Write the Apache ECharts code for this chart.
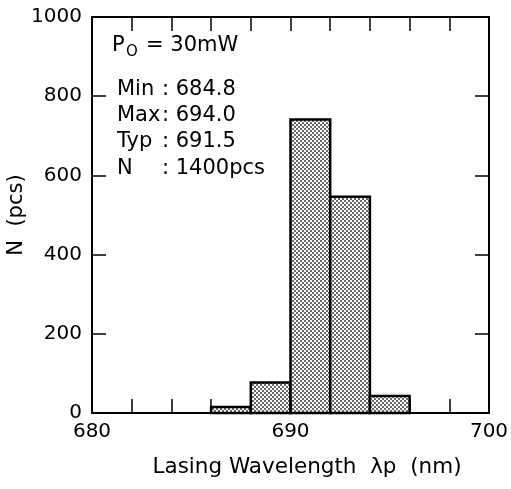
<!DOCTYPE html>
<html>
<head>
<meta charset="utf-8">
<script src="https://cdn.jsdelivr.net/npm/echarts@6/dist/echarts.min.js"></script>
<style>
html,body{margin:0;padding:0;background:#fff;}
#chart{width:511px;height:489px;}
</style>
</head>
<body>
<div id="chart"></div>
<script>
// ---- data ----
const binStart = [686, 688, 690, 692, 694];
const binEnd   = [688, 690, 692, 694, 696];
const counts   = [15, 77, 741, 546, 43];
const xTickLabels = [680, 690, 700];
const yTickLabels = [0, 200, 400, 600, 800, 1000];
const powerLabel = ['P', 'O', '= 30mW'];
const statLabels = ['Min', 'Max', 'Typ', 'N'];
const statValues = [': 684.8', ': 694.0', ': 691.5', ': 1400pcs'];
const xTitle = 'Lasing Wavelength  \u03bbp  (nm)';
const yTitle = 'N  (pcs)';

// ---- pattern fill ----
const pc = document.createElement('canvas');
pc.width = 4; pc.height = 4;
const pctx = pc.getContext('2d');
pctx.fillStyle = '#ffffff'; pctx.fillRect(0, 0, 4, 4);
pctx.fillStyle = '#6a6a6a';
pctx.fillRect(0, 0, 2, 2); pctx.fillRect(2, 2, 2, 2);

const FONT = '"DejaVu Sans", sans-serif';
const binData = binStart.map((s, i) => [s, binEnd[i], counts[i]]);

const chart = echarts.init(document.getElementById('chart'), null, {renderer: 'canvas'});

function tickStyle() { return {show: true, inside: true, length: 14, lineStyle: {color: '#000', width: 1.5}}; }
function lineStyle() { return {show: true, onZero: false, lineStyle: {color: '#000', width: 2}}; }

const graphics = [];
graphics.push({type: 'text', left: 112, top: 35, z: 10, style: {text: powerLabel[0], font: '21px ' + FONT, fill: '#000'}});
graphics.push({type: 'text', left: 126, top: 45, z: 10, style: {text: powerLabel[1], font: '15px ' + FONT, fill: '#000'}});
graphics.push({type: 'text', left: 146, top: 35, z: 10, style: {text: powerLabel[2], font: '21px ' + FONT, fill: '#000'}});
const lineTops = [79, 105, 131, 158];
statLabels.forEach((t, i) => {
  graphics.push({type: 'text', left: 117, top: lineTops[i], z: 10, style: {text: t, font: '21px ' + FONT, fill: '#000'}});
  graphics.push({type: 'text', left: 162, top: lineTops[i], z: 10, style: {text: statValues[i], font: '21px ' + FONT, fill: '#000'}});
});

chart.setOption({
  animation: false,
  backgroundColor: '#fff',
  grid: {left: 92, right: 22, top: 17, bottom: 76, containLabel: false, outerBoundsMode: 'none'},
  xAxis: [{
    type: 'value', min: 680, max: 700, interval: 2, position: 'bottom', z: 5,
    axisLine: lineStyle(), axisTick: tickStyle(), splitLine: {show: false},
    axisLabel: {
      margin: 9, color: '#000', fontFamily: FONT, fontSize: 20,
      formatter: v => (xTickLabels.indexOf(v) >= 0 ? String(v) : '')
    },
    name: xTitle, nameLocation: 'middle', nameGap: 43, nameMoveOverlap: false,
    nameTextStyle: {color: '#000', fontFamily: FONT, fontSize: 21.5, padding: [0, 0, 0, 33]}
  }, {
    type: 'value', min: 680, max: 700, interval: 2, position: 'top', z: 5,
    axisLine: lineStyle(), axisTick: tickStyle(), splitLine: {show: false}, axisLabel: {show: false}
  }],
  yAxis: [{
    type: 'value', min: 0, max: 1000, interval: 200, position: 'left', z: 5,
    axisLine: lineStyle(), axisTick: tickStyle(), splitLine: {show: false},
    axisLabel: {
      margin: 10, color: '#000', fontFamily: FONT, fontSize: 20,
      formatter: v => (yTickLabels.indexOf(v) >= 0 ? String(v) : '')
    },
    name: yTitle, nameLocation: 'middle', nameGap: 65, nameRotate: 90, nameMoveOverlap: false,
    nameTextStyle: {color: '#000', fontFamily: FONT, fontSize: 21}
  }, {
    type: 'value', min: 0, max: 1000, interval: 200, position: 'right', z: 5,
    axisLine: lineStyle(), axisTick: tickStyle(), splitLine: {show: false}, axisLabel: {show: false}
  }],
  series: [{
    type: 'custom',
    xAxisIndex: 0, yAxisIndex: 0,
    z: 2,
    data: binData,
    encode: {x: [0, 1], y: 2},
    renderItem: function (params, api) {
      const p0 = api.coord([api.value(0), api.value(2)]);
      const p1 = api.coord([api.value(1), 0]);
      return {
        type: 'rect',
        shape: {x: p0[0], y: p0[1], width: p1[0] - p0[0], height: p1[1] - p0[1]},
        style: {fill: {image: pc, repeat: 'repeat'}, stroke: '#000', lineWidth: 2.5}
      };
    }
  }],
  graphic: graphics
});
</script>
</body>
</html>
